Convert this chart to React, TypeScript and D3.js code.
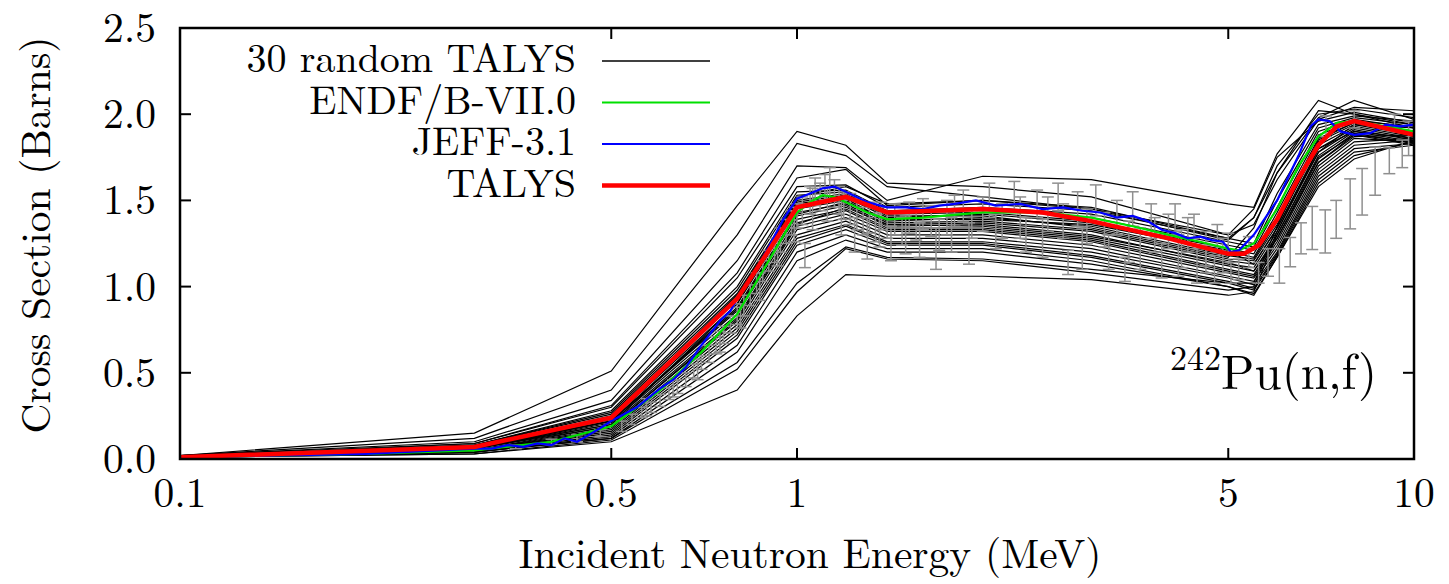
import React from "react";
import * as d3 from "d3";

const xTicks = [0.1, 0.5, 1, 5, 10];
const xTickLabels = ["0.1", "0.5", "1", "5", "10"];
const yTicks = [0, 0.5, 1.0, 1.5, 2.0, 2.5];
const yTickLabels = ["0.0", "0.5", "1.0", "1.5", "2.0", "2.5"];

const legendLabels = ["30 random TALYS", "ENDF/B-VII.0", "JEFF-3.1", "TALYS"];

// 30 random TALYS curves sampled at these energies (MeV)
const randomEnergies = [0.1, 0.3, 0.5, 0.8, 1.0, 1.2, 1.4, 2, 3, 5, 5.5, 6, 7, 8, 10];
const randomCurves = [
  [0.02, 0.15, 0.51, 1.47, 1.90, 1.82, 1.60, 1.58, 1.52, 1.30, 1.45, 1.75, 1.96, 2.01, 1.95],
  [0.02, 0.12, 0.40, 1.30, 1.83, 1.76, 1.58, 1.52, 1.45, 1.27, 1.40, 1.70, 2.00, 2.03, 1.98],
  [0.02, 0.10, 0.34, 1.15, 1.70, 1.69, 1.50, 1.64, 1.62, 1.48, 1.46, 1.77, 2.08, 2.00, 1.92],
  [0.02, 0.09, 0.31, 1.08, 1.63, 1.68, 1.47, 1.50, 1.45, 1.30, 1.36, 1.62, 1.97, 2.04, 2.02],
  [0.01, 0.09, 0.30, 1.05, 1.58, 1.59, 1.46, 1.48, 1.44, 1.28, 1.25, 1.54, 1.94, 1.99, 1.96],
  [0.01, 0.08, 0.28, 1.00, 1.55, 1.56, 1.44, 1.46, 1.42, 1.26, 1.23, 1.50, 1.92, 1.98, 1.94],
  [0.01, 0.08, 0.27, 0.98, 1.53, 1.55, 1.43, 1.45, 1.40, 1.24, 1.21, 1.46, 1.90, 1.97, 1.92],
  [0.01, 0.08, 0.26, 0.96, 1.50, 1.54, 1.42, 1.43, 1.38, 1.22, 1.19, 1.43, 1.88, 1.96, 1.93],
  [0.01, 0.07, 0.25, 0.94, 1.48, 1.52, 1.40, 1.42, 1.37, 1.20, 1.17, 1.40, 1.86, 1.95, 1.90],
  [0.01, 0.07, 0.24, 0.92, 1.47, 1.51, 1.38, 1.40, 1.35, 1.18, 1.16, 1.38, 1.84, 1.94, 1.88],
  [0.01, 0.07, 0.23, 0.90, 1.45, 1.50, 1.37, 1.38, 1.33, 1.16, 1.15, 1.36, 1.82, 1.93, 1.87],
  [0.01, 0.07, 0.22, 0.88, 1.43, 1.48, 1.36, 1.37, 1.32, 1.15, 1.13, 1.34, 1.80, 1.92, 1.86],
  [0.01, 0.06, 0.22, 0.86, 1.41, 1.47, 1.35, 1.36, 1.30, 1.13, 1.11, 1.32, 1.78, 1.91, 1.85],
  [0.01, 0.06, 0.21, 0.84, 1.39, 1.45, 1.34, 1.34, 1.28, 1.12, 1.09, 1.30, 1.76, 1.90, 1.84],
  [0.01, 0.06, 0.20, 0.82, 1.37, 1.44, 1.33, 1.33, 1.27, 1.10, 1.07, 1.28, 1.74, 1.89, 1.83],
  [0.01, 0.06, 0.19, 0.80, 1.35, 1.42, 1.32, 1.32, 1.26, 1.09, 1.06, 1.26, 1.72, 1.88, 1.82],
  [0.01, 0.05, 0.18, 0.78, 1.33, 1.40, 1.30, 1.30, 1.24, 1.08, 1.05, 1.24, 1.70, 1.86, 1.84],
  [0.01, 0.05, 0.17, 0.76, 1.30, 1.38, 1.28, 1.28, 1.22, 1.06, 1.03, 1.22, 1.68, 1.84, 1.86],
  [0.01, 0.05, 0.16, 0.74, 1.28, 1.36, 1.26, 1.26, 1.20, 1.05, 1.01, 1.20, 1.66, 1.82, 1.85],
  [0.01, 0.05, 0.15, 0.72, 1.26, 1.35, 1.25, 1.25, 1.18, 1.03, 0.99, 1.19, 1.64, 1.80, 1.83],
  [0.01, 0.04, 0.14, 0.70, 1.24, 1.33, 1.24, 1.24, 1.17, 1.02, 0.98, 1.18, 1.62, 1.78, 1.82],
  [0.01, 0.04, 0.13, 0.66, 1.20, 1.30, 1.22, 1.22, 1.15, 1.00, 0.96, 1.17, 1.60, 1.76, 1.84],
  [0.01, 0.04, 0.12, 0.62, 1.15, 1.27, 1.20, 1.20, 1.13, 1.00, 0.95, 1.17, 1.58, 1.74, 1.85],
  [0.01, 0.04, 0.12, 0.56, 1.02, 1.23, 1.17, 1.16, 1.10, 1.02, 1.02, 1.35, 1.85, 1.95, 1.90],
  [0.01, 0.03, 0.11, 0.52, 0.97, 1.22, 1.16, 1.15, 1.08, 0.98, 1.00, 1.32, 1.80, 1.90, 1.86],
  [0.01, 0.03, 0.10, 0.40, 0.83, 1.07, 1.06, 1.06, 1.04, 0.95, 0.97, 1.30, 1.75, 1.88, 1.84],
  [0.01, 0.06, 0.20, 0.90, 1.52, 1.58, 1.48, 1.50, 1.46, 1.28, 1.40, 1.66, 1.98, 2.08, 1.97],
  [0.01, 0.07, 0.24, 0.95, 1.49, 1.53, 1.41, 1.41, 1.34, 1.17, 1.34, 1.66, 2.02, 2.00, 1.94],
  [0.01, 0.06, 0.22, 0.87, 1.42, 1.49, 1.39, 1.39, 1.36, 1.21, 1.13, 1.34, 1.78, 1.94, 1.92],
  [0.01, 0.05, 0.19, 0.81, 1.36, 1.46, 1.36, 1.35, 1.29, 1.14, 1.09, 1.28, 1.72, 1.87, 1.88],
];

// ENDF/B-VII.0
const endfE = [0.1, 0.2, 0.3, 0.4, 0.5, 0.6, 0.7, 0.8, 0.9, 1.0, 1.05, 1.1, 1.15, 1.2, 1.3, 1.4, 1.6, 2.0, 2.5, 3.0, 3.5, 4.0, 4.5, 5.0, 5.2, 5.5, 6.0, 6.5, 7.0, 7.5, 8.0, 9.0, 10];
const endfXS = [0.01, 0.03, 0.05, 0.10, 0.19, 0.40, 0.62, 0.84, 1.15, 1.43, 1.49, 1.53, 1.52, 1.49, 1.43, 1.39, 1.40, 1.43, 1.43, 1.40, 1.35, 1.30, 1.26, 1.22, 1.21, 1.25, 1.45, 1.70, 1.87, 1.95, 1.96, 1.93, 1.90];

// JEFF-3.1
const jeffE = [0.1, 0.2, 0.3, 0.32, 0.34, 0.36, 0.38, 0.40, 0.42, 0.44, 0.46, 0.48, 0.5, 0.55, 0.6, 0.63, 0.66, 0.7, 0.75, 0.78, 0.8, 0.85, 0.9, 0.95, 1.0, 1.05, 1.1, 1.15, 1.2, 1.3, 1.4, 1.5, 1.6, 1.7, 1.8, 1.95, 2.1, 2.3, 2.5, 2.7, 2.9, 3.1, 3.3, 3.5, 3.7, 3.9, 4.1, 4.3, 4.5, 4.7, 4.9, 5.05, 5.2, 5.5, 6.0, 6.5, 6.8, 7.0, 7.3, 7.6, 8.0, 8.5, 9.0, 9.5, 10];
const jeffXS = [0.01, 0.03, 0.06, 0.06, 0.08, 0.07, 0.09, 0.08, 0.12, 0.10, 0.14, 0.18, 0.22, 0.30, 0.41, 0.46, 0.53, 0.66, 0.80, 0.86, 0.93, 1.07, 1.23, 1.39, 1.51, 1.54, 1.57, 1.58, 1.55, 1.49, 1.46, 1.46, 1.45, 1.47, 1.48, 1.50, 1.47, 1.48, 1.45, 1.46, 1.44, 1.43, 1.40, 1.41, 1.38, 1.33, 1.31, 1.28, 1.29, 1.27, 1.26, 1.20, 1.21, 1.30, 1.50, 1.76, 1.93, 1.97, 1.96, 1.90, 1.88, 1.89, 1.94, 1.93, 1.94];

// TALYS
const talysE = [0.1, 0.3, 0.5, 0.8, 1.0, 1.2, 1.4, 2.0, 2.5, 3.0, 4.0, 5.0, 5.3, 5.6, 6.0, 6.5, 7.0, 7.5, 8.0, 10];
const talysXS = [0.01, 0.07, 0.24, 0.93, 1.46, 1.52, 1.43, 1.45, 1.43, 1.38, 1.28, 1.19, 1.19, 1.24, 1.39, 1.63, 1.82, 1.93, 1.96, 1.88];

// Experimental data (energy, cross section, uncertainty)
const expE = [0.35, 0.40, 0.44, 0.48, 0.52, 0.54, 0.56, 0.58, 0.60, 0.62, 0.64, 0.66, 0.68, 0.70, 0.72, 0.74, 0.76, 0.78, 0.80, 0.82, 0.84, 0.86, 0.88, 0.90, 0.92, 0.94, 0.96, 0.98, 1.00, 1.02, 1.03, 1.05, 1.07, 1.09, 1.11, 1.13, 1.15, 1.17, 1.19, 1.22, 1.25, 1.28, 1.31, 1.34, 1.37, 1.40, 1.44, 1.48, 1.52, 1.56, 1.60, 1.65, 1.70, 1.75, 1.80, 1.86, 1.92, 2.0, 2.05, 2.15, 2.25, 2.35, 2.45, 2.55, 2.65, 2.75, 2.85, 2.95, 3.05, 3.2, 3.3, 3.4, 3.5, 3.6, 3.75, 3.9, 4.0, 4.15, 4.3, 4.45, 4.6, 4.75, 4.9, 5.05, 5.2, 5.4, 5.6, 5.8, 6.05, 6.3, 6.56, 6.84, 7.18, 7.48, 7.88, 8.24, 8.65, 9.12, 9.57, 7.2, 8.0, 9.3, 9.8,
  0.57, 0.63, 0.69, 0.75, 0.81, 0.87, 0.93, 0.99, 1.06, 1.12, 1.18, 1.24, 1.30, 1.36, 1.42, 1.50, 1.58, 1.68, 1.78, 1.90, 2.1, 2.3, 2.5, 2.7, 2.9, 3.15, 3.45, 3.8, 4.2, 4.6, 4.1, 4.4, 4.8, 5.0];
const expXS = [0.07, 0.10, 0.12, 0.15, 0.19, 0.23, 0.27, 0.30, 0.34, 0.38, 0.42, 0.46, 0.51, 0.56, 0.61, 0.66, 0.72, 0.78, 0.83, 0.89, 0.95, 1.02, 1.09, 1.15, 1.21, 1.27, 1.32, 1.37, 1.41, 1.44, 1.18, 1.50, 1.55, 1.52, 1.57, 1.60, 1.54, 1.50, 1.47, 1.45, 1.42, 1.38, 1.40, 1.34, 1.41, 1.37, 1.39, 1.32, 1.40, 1.35, 1.42, 1.38, 1.30, 1.40, 1.44, 1.47, 1.36, 1.42, 1.50, 1.38, 1.52, 1.30, 1.48, 1.42, 1.52, 1.14, 1.45, 1.35, 1.50, 1.20, 1.40, 1.10, 1.45, 1.22, 1.38, 1.15, 1.32, 1.18, 1.30, 1.12, 1.22, 1.10, 1.18, 1.08, 1.10, 1.20, 1.08, 1.14, 1.12, 1.20, 1.28, 1.34, 1.32, 1.39, 1.48, 1.55, 1.67, 1.73, 1.77, 1.93, 1.97, 1.95, 1.86,
  0.30, 0.41, 0.52, 0.68, 0.83, 1.00, 1.20, 1.36, 1.45, 1.48, 1.40, 1.30, 1.28, 1.33, 1.25, 1.30, 1.27, 1.22, 1.30, 1.25, 1.32, 1.40, 1.28, 1.38, 1.22, 1.33, 1.26, 1.30, 1.22, 1.16, 1.40, 1.35, 1.28, 1.25];
const expErr = [0.01, 0.015, 0.02, 0.02, 0.03, 0.03, 0.03, 0.03, 0.035, 0.035, 0.04, 0.04, 0.04, 0.04, 0.05, 0.05, 0.05, 0.05, 0.05, 0.06, 0.06, 0.06, 0.06, 0.06, 0.07, 0.07, 0.07, 0.07, 0.07, 0.08, 0.07, 0.08, 0.08, 0.08, 0.08, 0.09, 0.08, 0.08, 0.08, 0.09, 0.09, 0.08, 0.09, 0.08, 0.08, 0.09, 0.09, 0.08, 0.09, 0.08, 0.09, 0.09, 0.09, 0.10, 0.09, 0.09, 0.08, 0.10, 0.10, 0.10, 0.09, 0.10, 0.08, 0.10, 0.08, 0.07, 0.10, 0.10, 0.09, 0.10, 0.10, 0.07, 0.10, 0.12, 0.10, 0.10, 0.10, 0.12, 0.10, 0.10, 0.10, 0.08, 0.10, 0.06, 0.06, 0.09, 0.06, 0.08, 0.10, 0.085, 0.09, 0.125, 0.125, 0.11, 0.145, 0.135, 0.14, 0.075, 0.08, 0.06, 0.05, 0.05, 0.10,
  0.05, 0.05, 0.06, 0.06, 0.07, 0.08, 0.08, 0.10, 0.12, 0.10, 0.10, 0.10, 0.12, 0.10, 0.10, 0.11, 0.10, 0.12, 0.10, 0.12, 0.10, 0.12, 0.11, 0.10, 0.12, 0.10, 0.12, 0.10, 0.11, 0.08, 0.08, 0.07, 0.08, 0.06];

const W = 1449;
const H = 584;
const M = { left: 180, right: 1414, top: 28, bottom: 459 };
const FONT = "'Latin Modern Roman', 'CMU Serif', 'Liberation Serif', serif";
const FS = 41.5;

export default function App() {
  const x = d3.scaleLog().domain([0.1, 10]).range([M.left, M.right]);
  const y = d3.scaleLinear().domain([0, 2.5]).range([M.bottom, M.top]);
  const line = d3
    .line<[number, number]>()
    .x((d) => x(d[0]))
    .y((d) => y(d[1]));
  const zip = (es: number[], vs: number[]) => es.map((e, i) => [e, vs[i]] as [number, number]);
  const tick = 11;
  const cap = 6;
  const tf = { fontFamily: FONT, fontSize: FS };

  const legendRows = [
    { color: "#000", width: 1.3 },
    { color: "#00e000", width: 2.2 },
    { color: "#0000ff", width: 2.2 },
    { color: "#ff0000", width: 4.5 },
  ];

  return (
    <svg
      width={W}
      height={H}
      style={{ position: "absolute", left: 0, top: 0, background: "#fff" }}
    >
      <defs>
        <clipPath id="plotclip">
          <rect x={M.left} y={M.top} width={M.right - M.left} height={M.bottom - M.top} />
        </clipPath>
      </defs>
      <rect width={W} height={H} fill="#fff" />
      <g clipPath="url(#plotclip)">
        {/* random TALYS */}
        <g stroke="#000" strokeWidth={1.2} fill="none" strokeLinejoin="miter">
          {randomCurves.map((c, i) => (
            <path key={i} d={line(zip(randomEnergies, c)) || ""} />
          ))}
        </g>
        {/* experimental error bars */}
        <g stroke="#8f8f8f" strokeWidth={1.5} fill="none">
          {expE.map((e, i) => {
            const cx = x(e);
            const y1 = y(expXS[i] - expErr[i]);
            const y2 = y(expXS[i] + expErr[i]);
            return (
              <g key={i}>
                <line x1={cx} x2={cx} y1={y1} y2={y2} />
                <line x1={cx - cap} x2={cx + cap} y1={y1} y2={y1} />
                <line x1={cx - cap} x2={cx + cap} y1={y2} y2={y2} />
              </g>
            );
          })}
        </g>
        <path d={line(zip(endfE, endfXS)) || ""} stroke="#00e000" strokeWidth={2.2} fill="none" />
        <path d={line(zip(jeffE, jeffXS)) || ""} stroke="#0000ff" strokeWidth={2.2} fill="none" />
        <path d={line(zip(talysE, talysXS)) || ""} stroke="#ff0000" strokeWidth={4.5} fill="none" />
      </g>

      {/* frame */}
      <rect
        x={M.left}
        y={M.top}
        width={M.right - M.left}
        height={M.bottom - M.top}
        fill="none"
        stroke="#000"
        strokeWidth={2.5}
      />
      {/* ticks */}
      <g stroke="#000" strokeWidth={2}>
        {xTicks.map((t, i) => (
          <g key={"xt" + i}>
            <line x1={x(t)} x2={x(t)} y1={M.bottom} y2={M.bottom - tick} />
            <line x1={x(t)} x2={x(t)} y1={M.top} y2={M.top + tick} />
          </g>
        ))}
        {yTicks.map((t, i) => (
          <g key={"yt" + i}>
            <line x1={M.left} x2={M.left + tick} y1={y(t)} y2={y(t)} />
            <line x1={M.right} x2={M.right - tick} y1={y(t)} y2={y(t)} />
          </g>
        ))}
      </g>
      {/* tick labels */}
      <g fill="#000">
        {xTicks.map((t, i) => (
          <text key={"xl" + i} x={x(t)} y={507} textAnchor="middle" style={tf}>
            {xTickLabels[i]}
          </text>
        ))}
        {yTicks.map((t, i) => (
          <text key={"yl" + i} x={156} y={y(t) + 14} textAnchor="end" style={tf}>
            {yTickLabels[i]}
          </text>
        ))}
      </g>
      {/* axis titles */}
      <text x={810} y={568} textAnchor="middle" style={tf}>
        Incident Neutron Energy (MeV)
      </text>
      <text transform={`translate(50, 235) rotate(-90)`} textAnchor="middle" style={tf}>
        Cross Section (Barns)
      </text>

      {/* legend */}
      <g>
        {legendLabels.map((lab, i) => {
          const ry = 60 + i * 41.5;
          return (
            <g key={"lg" + i}>
              <text x={576} y={ry + 12} textAnchor="end" style={{ fontFamily: FONT, fontSize: 40 }}>
                {lab}
              </text>
              <line
                x1={602}
                x2={710}
                y1={ry + 1}
                y2={ry + 1}
                stroke={legendRows[i].color}
                strokeWidth={legendRows[i].width}
              />
            </g>
          );
        })}
      </g>

      {/* reaction label */}
      <text x={1377} y={389} textAnchor="end" style={{ fontFamily: FONT, fontSize: 49 }}>
        <tspan style={{ fontSize: 34 }} dy={-19}>242</tspan>
        <tspan dy={19}>Pu(n,f)</tspan>
      </text>
    </svg>
  );
}
